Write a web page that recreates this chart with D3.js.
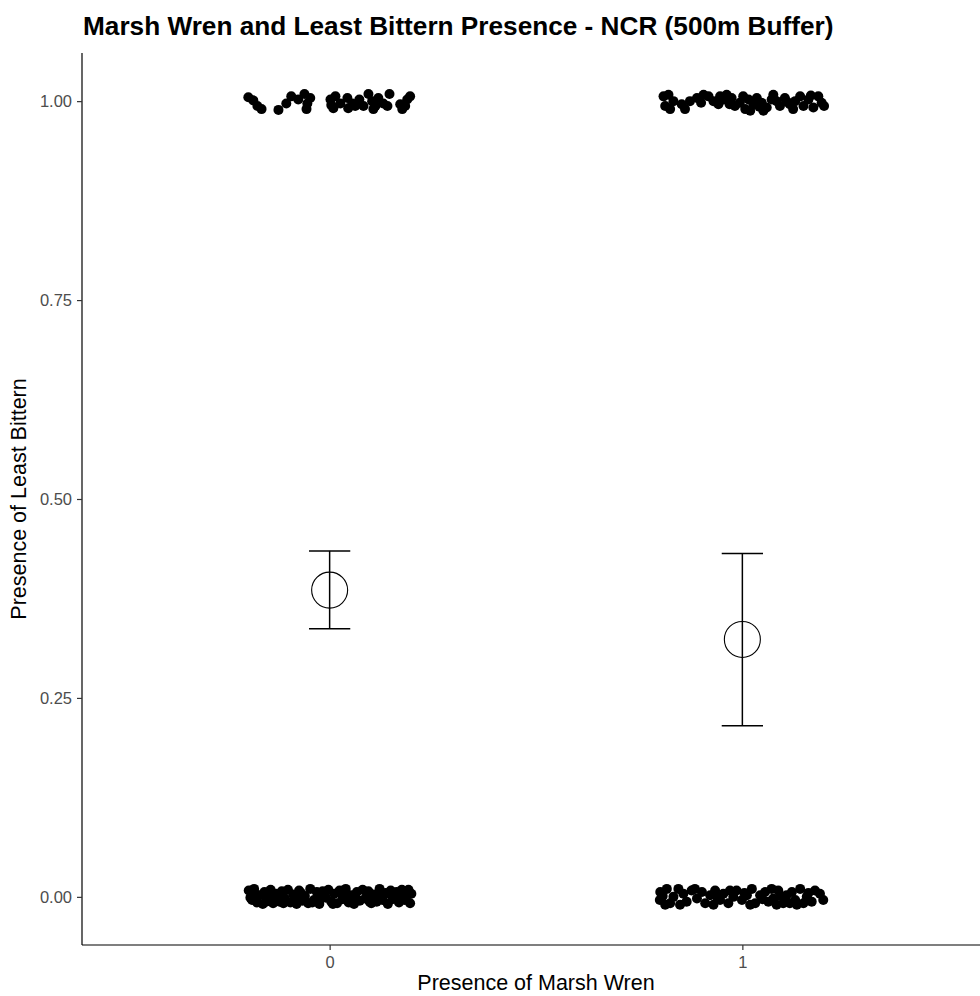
<!DOCTYPE html>
<html>
<head>
<meta charset="utf-8">
<script src="https://cdn.jsdelivr.net/npm/d3@7"></script>
<style>
    body { margin: 0; background: white; }
    svg { font-family: "Liberation Sans", Arial, sans-serif; }
</style>
</head>
<body>
<svg class="svgMain" width="980" height="996"></svg>
<script>
// Groups on the x axis (presence of marsh wren).
const groups = ["0", "1"];
const yTicks = [0, 0.25, 0.5, 0.75, 1];

// Summary per group: mean and error bar ends.
const means = [0.3855, 0.3235];
const lowers = [0.3368, 0.2149];
const uppers = [0.4348, 0.4316];

// Jittered raw points, as [x jitter, y value] pairs.
const group0Top = [
    [-0.197, 1.005], [-0.185, 1.001], [-0.175, 0.994], [-0.165, 0.990], [-0.124, 0.989],
    [-0.105, 0.997], [-0.093, 1.006], [-0.076, 1.002], [-0.061, 1.009], [-0.054, 0.997],
    [-0.047, 1.004], [-0.056, 0.990], [0.002, 1.002], [0.004, 0.995], [0.014, 1.006],
    [0.026, 0.997], [0.043, 1.004], [0.055, 0.997], [0.062, 0.994], [0.072, 1.002],
    [0.082, 0.994], [0.094, 1.009], [0.103, 1.000], [0.111, 0.994], [0.118, 1.004],
    [0.130, 0.997], [0.145, 1.009], [0.140, 0.994], [0.171, 0.996], [0.176, 0.990],
    [0.188, 1.002], [0.195, 1.006], [0.183, 0.994], [0.009, 0.991], [0.045, 0.991],
    [0.106, 0.990]
];
const group0Bottom = [
    [-0.196, 0.008], [-0.188, -0.004], [-0.183, 0.010], [-0.176, -0.007], [-0.170, 0.002],
    [-0.162, -0.009], [-0.158, 0.006], [-0.150, -0.003], [-0.143, 0.009], [-0.137, -0.008],
    [-0.130, 0.004], [-0.121, -0.006], [-0.116, 0.007], [-0.108, -0.002], [-0.101, 0.009],
    [-0.095, -0.007], [-0.088, 0.003], [-0.080, -0.009], [-0.074, 0.008], [-0.066, -0.005],
    [-0.060, 0.001], [-0.052, -0.008], [-0.047, 0.010], [-0.038, -0.004], [-0.031, 0.006],
    [-0.025, -0.009], [-0.017, 0.007], [-0.009, -0.001], [-0.003, 0.009], [0.004, -0.006],
    [0.011, 0.004], [0.018, -0.008], [0.024, 0.008], [0.031, -0.003], [0.039, 0.010],
    [0.046, -0.007], [0.052, 0.002], [0.059, -0.009], [0.066, 0.006], [0.073, -0.005],
    [0.080, 0.009], [0.086, -0.002], [0.094, 0.007], [0.101, -0.008], [0.107, 0.003],
    [0.114, -0.006], [0.121, 0.010], [0.128, -0.004], [0.135, 0.005], [0.141, -0.009],
    [0.148, 0.008], [0.155, -0.001], [0.162, 0.006], [0.168, -0.007], [0.175, 0.009],
    [0.182, -0.004], [0.188, 0.002], [0.195, -0.008], [-0.192, -0.001], [-0.141, 0.001],
    [-0.084, 0.000], [-0.022, -0.002], [0.036, 0.001], [0.090, 0.000], [0.152, -0.003],
    [0.198, 0.004], [-0.179, 0.003], [-0.154, -0.006], [-0.126, 0.001], [-0.112, -0.008],
    [-0.070, 0.005], [-0.042, -0.007], [-0.013, 0.004], [0.008, -0.009], [0.028, 0.005],
    [0.063, -0.002], [0.097, -0.006], [0.118, 0.002], [0.144, 0.004], [0.172, -0.002],
    [0.191, 0.009]
];
const group1Top = [
    [-0.191, 1.006], [-0.179, 1.008], [-0.187, 0.994], [-0.167, 1.000], [-0.147, 0.996],
    [-0.139, 0.990], [-0.127, 1.000], [-0.110, 1.004], [-0.094, 1.008], [-0.082, 1.006],
    [-0.070, 1.000], [-0.058, 0.996], [-0.046, 1.002], [-0.038, 1.008], [-0.026, 1.004],
    [-0.018, 0.994], [-0.006, 0.998], [0.007, 0.990], [0.015, 1.002], [0.027, 0.996],
    [0.035, 1.004], [0.047, 0.998], [0.059, 0.992], [0.071, 1.002], [0.083, 1.000],
    [0.091, 0.994], [0.103, 1.004], [0.115, 0.996], [0.128, 1.000], [0.140, 1.006],
    [0.148, 0.994], [0.160, 1.002], [0.172, 0.992], [0.184, 1.006], [0.192, 0.998],
    [0.198, 0.994], [0.002, 1.006], [0.019, 0.988], [0.051, 0.988], [0.123, 0.990],
    [0.075, 1.008], [-0.054, 1.006], [-0.175, 0.990], [-0.100, 0.998], [-0.031, 0.996],
    [0.041, 0.993], [0.109, 0.999], [0.166, 1.007]
];
const group1Bottom = [
    [-0.199, 0.006], [-0.200, -0.004], [-0.183, 0.010], [-0.187, -0.010], [-0.167, 0.000],
    [-0.155, 0.010], [-0.143, 0.004], [-0.135, -0.006], [-0.123, 0.008], [-0.110, -0.002],
    [-0.098, 0.006], [-0.090, -0.008], [-0.078, 0.002], [-0.066, 0.008], [-0.054, -0.004],
    [-0.046, 0.004], [-0.034, -0.008], [-0.022, 0.000], [-0.014, 0.008], [-0.001, -0.004],
    [0.011, 0.002], [0.023, 0.010], [0.031, -0.008], [0.043, 0.002], [0.055, 0.006],
    [0.063, -0.006], [0.075, -0.002], [0.087, 0.008], [0.099, -0.008], [0.107, 0.002],
    [0.120, 0.006], [0.128, -0.004], [0.140, 0.010], [0.148, -0.008], [0.156, 0.000],
    [0.168, -0.006], [0.176, 0.008], [0.188, 0.004], [0.196, -0.004], [-0.175, -0.008],
    [-0.070, -0.010], [0.019, -0.010], [0.083, -0.010], [0.132, -0.010], [-0.115, 0.010],
    [-0.030, 0.008], [0.071, 0.010], [-0.151, -0.010], [-0.193, 0.001], [-0.060, -0.001],
    [0.005, 0.005], [0.049, -0.003], [0.093, 0.001], [0.115, -0.008], [0.160, 0.005]
];


// Panel edges in pixels.
const panelLeft = 82, panelRight = 990, panelTop = 53, panelBottom = 945;

const svgMain = d3.select(".svgMain");

// Discrete groups sit at 0 and 1, with 0.6 of padding each side.
const x = d3.scaleLinear().domain([-0.6, 1.6]).range([panelLeft, panelRight]);
const y = d3.scaleLinear().domain([-0.0605, 1.0605]).range([panelBottom, panelTop]);


// Draw the jittered points for each group.
function drawPoints (points, groupIndex) {
    svgMain.append("g")
        .selectAll("circle")
        .data(points)
        .join("circle")
        .attr("cx", d => x(groupIndex + d[0]))
        .attr("cy", d => y(d[1]))
        .attr("r", 5)
        .attr("fill", "black");
}

drawPoints(group0Top, 0);
drawPoints(group0Bottom, 0);
drawPoints(group1Top, 1);
drawPoints(group1Bottom, 1);


// Draw error bars and open mean circles.
const summary = groups.map((g, i) => ({ i: i, mean: means[i], lo: lowers[i], hi: uppers[i] }));
const barGroup = svgMain.append("g").attr("stroke", "black").attr("fill", "none");
barGroup.selectAll(".errLine").data(summary).join("line")
    .attr("class", "errLine")
    .attr("x1", d => x(d.i)).attr("x2", d => x(d.i))
    .attr("y1", d => y(d.lo)).attr("y2", d => y(d.hi))
    .attr("stroke-width", 1.5);
barGroup.selectAll(".errTop").data(summary).join("line")
    .attr("class", "errTop")
    .attr("x1", d => x(d.i - 0.05)).attr("x2", d => x(d.i + 0.05))
    .attr("y1", d => y(d.hi)).attr("y2", d => y(d.hi))
    .attr("stroke-width", 1.5);
barGroup.selectAll(".errBottom").data(summary).join("line")
    .attr("class", "errBottom")
    .attr("x1", d => x(d.i - 0.05)).attr("x2", d => x(d.i + 0.05))
    .attr("y1", d => y(d.lo)).attr("y2", d => y(d.lo))
    .attr("stroke-width", 1.5);
barGroup.selectAll(".meanDot").data(summary).join("circle")
    .attr("class", "meanDot")
    .attr("cx", d => x(d.i)).attr("cy", d => y(d.mean))
    .attr("r", 18)
    .attr("stroke-width", 1.1);


// Axes, in the classic theme style: lines, short ticks, grey labels.
const yAxis = svgMain.append("g")
    .attr("transform", "translate(" + panelLeft + ",0)")
    .call(d3.axisLeft(y).tickValues(yTicks).tickFormat(d3.format(".2f")).tickSize(5).tickPadding(5));
const xAxis = svgMain.append("g")
    .attr("transform", "translate(0," + panelBottom + ")")
    .call(d3.axisBottom(x).tickValues([0, 1]).tickFormat((d, i) => groups[i]).tickSize(5).tickPadding(6));

[yAxis, xAxis].forEach(axis => {
    axis.select(".domain").attr("stroke", "black").attr("stroke-width", 1.2);
    axis.selectAll(".tick line").attr("stroke", "#333333").attr("stroke-width", 1.2);
    axis.selectAll(".tick text")
        .attr("fill", "#4d4d4d")
        .attr("font-size", "16.5px")
        .attr("font-family", "Liberation Sans, Arial, sans-serif");
});
// Keep the axis lines to the panel edges.
yAxis.select(".domain").attr("d", "M0," + panelBottom + "V" + panelTop);
xAxis.select(".domain").attr("d", "M" + panelLeft + ",0H" + panelRight);


// Titles.
svgMain.append("text")
    .text("Marsh Wren and Least Bittern Presence - NCR (500m Buffer)")
    .attr("x", 83).attr("y", 35)
    .attr("font-size", "26.2px").attr("font-weight", "bold").attr("fill", "black");
svgMain.append("text")
    .text("Presence of Marsh Wren")
    .attr("x", (panelLeft + panelRight) / 2).attr("y", 990)
    .attr("text-anchor", "middle")
    .attr("font-size", "21.5px").attr("fill", "black");
svgMain.append("text")
    .text("Presence of Least Bittern")
    .attr("transform", "translate(26," + ((panelTop + panelBottom) / 2) + ") rotate(-90)")
    .attr("text-anchor", "middle")
    .attr("font-size", "21.5px").attr("fill", "black");
</script>
</body>
</html>
